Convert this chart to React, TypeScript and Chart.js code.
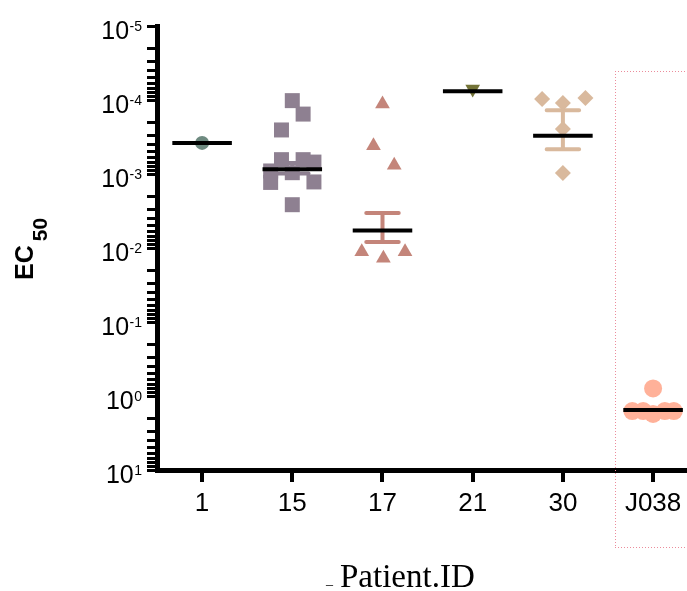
import React, { useEffect, useRef } from 'react';
import { Chart, registerables } from 'chart.js';

Chart.register(...registerables);

// ---------- data ----------
const categories = ['1', '15', '17', '21', '30', 'J038'];
const groupColors = ['#6e8a80', '#8e8091', '#c4857a', '#737337', '#d9b99d', '#ffb199'];
const pointStyles = ['circle', 'rect', 'triangle', 'triangle', 'rectRot', 'circle'];
const pointRotations = [0, 0, 0, 180, 0, 0];
const pointRadii = [7, 10.6, 8.5, 8.5, 8, 9];

// EC50 values for each patient and their horizontal jitter (category units)
const p1Values = [3.8e-4];
const p1Jitter = [0];
const p15Values = [1.02e-4, 1.55e-4, 2.54e-4, 6.4e-4, 6.4e-4, 6.9e-4, 9.1e-4, 9.6e-4, 1.3e-3, 1.28e-3, 2.6e-3];
const p15Jitter = [0, 0.12, -0.12, -0.12, 0.12, 0.24, -0.24, 0, -0.24, 0.24, 0];
const p17Values = [1.13e-4, 4.16e-4, 7.6e-4, 1.12e-2, 1.38e-2, 1.12e-2];
const p17Jitter = [0, -0.1, 0.13, -0.23, 0.01, 0.25];
const p21Values = [7.1e-5];
const p21Jitter = [0];
const p30Values = [9.7e-5, 1.1e-4, 9.4e-5, 2.47e-4, 9.7e-4];
const p30Jitter = [-0.23, 0, 0.25, 0, 0];
const pJ038Values = [0.79, 1.6, 1.6, 1.75, 1.6, 1.6];
const pJ038Jitter = [0, -0.23, -0.11, 0, 0.13, 0.23];

const groupValues = [p1Values, p15Values, p17Values, p21Values, p30Values, pJ038Values];
const groupJitter = [p1Jitter, p15Jitter, p17Jitter, p21Jitter, p30Jitter, pJ038Jitter];

const meanValues = [3.8e-4, 8.6e-4, 5.8e-3, 7.6e-5, 3.03e-4, 1.55];
const errLow: (number | null)[] = [null, 7.1e-4, 3.37e-3, null, 1.38e-4, null];
const errHigh: (number | null)[] = [null, 9.85e-4, 8.3e-3, null, 4.63e-4, null];

const yTickExponents = [-5, -4, -3, -2, -1, 0, 1];
const minorMultipliers = [1, 2, 3, 4, 5, 6, 7, 8, 9];

const MEAN_HALF = 0.33;
const CAP_HALF = 0.18;

const SANS = '"Liberation Sans", Arial, sans-serif';
const SERIF = '"Liberation Serif", "Times New Roman", serif';

const labelsPlugin = {
  id: 'customLabels',
  afterDraw(chart: any) {
    const ctx = chart.ctx;
    const ys = chart.scales.y;
    const xs = chart.scales.x;
    ctx.save();
    ctx.fillStyle = '#000';
    ctx.textBaseline = 'alphabetic';
    // y tick labels 10^n
    const right = 142;
    for (const e of yTickExponents) {
      const py = ys.getPixelForValue(Math.pow(10, e));
      const sup = String(e);
      ctx.font = '14px ' + SANS;
      const supW = ctx.measureText(sup).width;
      ctx.textAlign = 'left';
      ctx.fillText(sup, right - supW, py + 4.5);
      ctx.font = '25px ' + SANS;
      const mainW = ctx.measureText('10').width;
      ctx.fillText('10', right - supW - 0.5 - mainW, py + 13);
    }
    // y title EC50
    ctx.save();
    ctx.translate(33.3, 280);
    ctx.rotate(-Math.PI / 2);
    ctx.font = 'bold 25px ' + SANS;
    ctx.textAlign = 'left';
    ctx.fillText('EC', 0, 0);
    const w = ctx.measureText('EC').width;
    ctx.font = 'bold 21px ' + SANS;
    ctx.fillText('50', w + 4, 13.4);
    ctx.restore();
    // x title
    ctx.textAlign = 'left';
    ctx.font = '14px ' + SERIF;
    ctx.fillText('_', 326, 584);
    ctx.font = '33px ' + SERIF;
    ctx.fillText('Patient.ID', 340, 586.7);
    // dotted frame around J038
    const left = Math.round(xs.getPixelForValue(4.58));
    ctx.fillStyle = 'rgb(235,140,155)';
    for (let x = left; x < chart.width; x += 3) {
      ctx.fillRect(x, 71, 1, 1);
      ctx.fillRect(x, 547, 1, 1);
    }
    for (let y = 71; y <= 547; y += 3) {
      ctx.fillRect(left, y, 1, 1);
    }
    ctx.restore();
  },
};

export default function App() {
  const canvasRef = useRef<HTMLCanvasElement | null>(null);

  useEffect(() => {
    document.body.style.margin = '0';
    const canvas = canvasRef.current;
    if (!canvas) return;

    const datasets: any[] = [];

    // error bars (drawn first / behind)
    categories.forEach((_, i) => {
      const lo = errLow[i];
      const hi = errHigh[i];
      if (lo == null || hi == null) return;
      datasets.push({
        data: [
          { x: i - CAP_HALF, y: lo },
          { x: i + CAP_HALF, y: lo },
          { x: i, y: null },
          { x: i, y: lo },
          { x: i, y: hi },
          { x: i, y: null },
          { x: i - CAP_HALF, y: hi },
          { x: i + CAP_HALF, y: hi },
        ],
        showLine: true,
        borderColor: groupColors[i],
        borderWidth: 4,
        borderCapStyle: 'round',
        pointRadius: 0,
        spanGaps: false,
        order: 3,
      });
    });

    // points
    categories.forEach((_, i) => {
      datasets.push({
        data: groupValues[i].map((v, k) => ({ x: i + groupJitter[i][k], y: v })),
        showLine: false,
        pointStyle: pointStyles[i],
        pointRotation: pointRotations[i],
        pointRadius: pointRadii[i],
        pointBackgroundColor: groupColors[i],
        pointBorderWidth: 0,
        pointBorderColor: groupColors[i],
        order: 2,
      });
    });

    // mean lines
    const meanData: any[] = [];
    meanValues.forEach((m, i) => {
      meanData.push({ x: i - MEAN_HALF, y: m }, { x: i + MEAN_HALF, y: m }, { x: i + 0.5, y: null });
    });
    datasets.push({
      data: meanData,
      showLine: true,
      borderColor: '#000',
      borderWidth: 4,
      pointRadius: 0,
      spanGaps: false,
      order: 1,
    });

    const chart = new Chart(canvas, {
      type: 'scatter',
      data: { datasets },
      options: {
        responsive: false,
        animation: false,
        events: [],
        layout: { autoPadding: false, padding: { top: 26, left: 0, right: 0, bottom: 0 } },
        plugins: { legend: { display: false }, tooltip: { enabled: false } },
        scales: {
          x: {
            type: 'linear',
            min: -0.5,
            max: 5.376,
            afterBuildTicks: (s: any) => {
              s.ticks = categories.map((_, i) => ({ value: i }));
            },
            afterFit: (s: any) => {
              s.height = 121;
              s.paddingLeft = 0;
              s.paddingRight = 0;
            },
            ticks: {
              callback: (v: any) => categories[v as number] ?? '',
              font: { size: 26, family: SANS },
              color: '#000',
              padding: 6,
              autoSkip: false,
              maxRotation: 0,
            },
            grid: {
              drawOnChartArea: false,
              drawTicks: true,
              tickLength: 12,
              lineWidth: 4,
              color: '#000',
            },
            border: { display: true, width: 5, color: '#000' },
          },
          y: {
            type: 'logarithmic',
            reverse: true,
            min: 1e-5,
            max: 10,
            afterBuildTicks: (s: any) => {
              const t: any[] = [];
              yTickExponents.forEach((e, idx) => {
                if (idx === yTickExponents.length - 1) {
                  t.push({ value: Math.pow(10, e), major: true });
                } else {
                  minorMultipliers.forEach((m) => t.push({ value: m * Math.pow(10, e), major: m === 1 }));
                }
              });
              s.ticks = t;
            },
            afterFit: (s: any) => {
              s.width = 157;
              s.paddingTop = 0;
              s.paddingBottom = 0;
            },
            ticks: { display: false, autoSkip: false },
            grid: {
              drawOnChartArea: false,
              drawTicks: true,
              tickLength: 10,
              lineWidth: 3,
              color: '#000',
            },
            border: { display: true, width: 5, color: '#000' },
          },
        },
      },
      plugins: [labelsPlugin],
    } as any);

    return () => chart.destroy();
  }, []);

  return (
    <div style={{ width: 687, height: 591 }}>
      <canvas ref={canvasRef} width={687} height={591} style={{ display: 'block' }} />
    </div>
  );
}
